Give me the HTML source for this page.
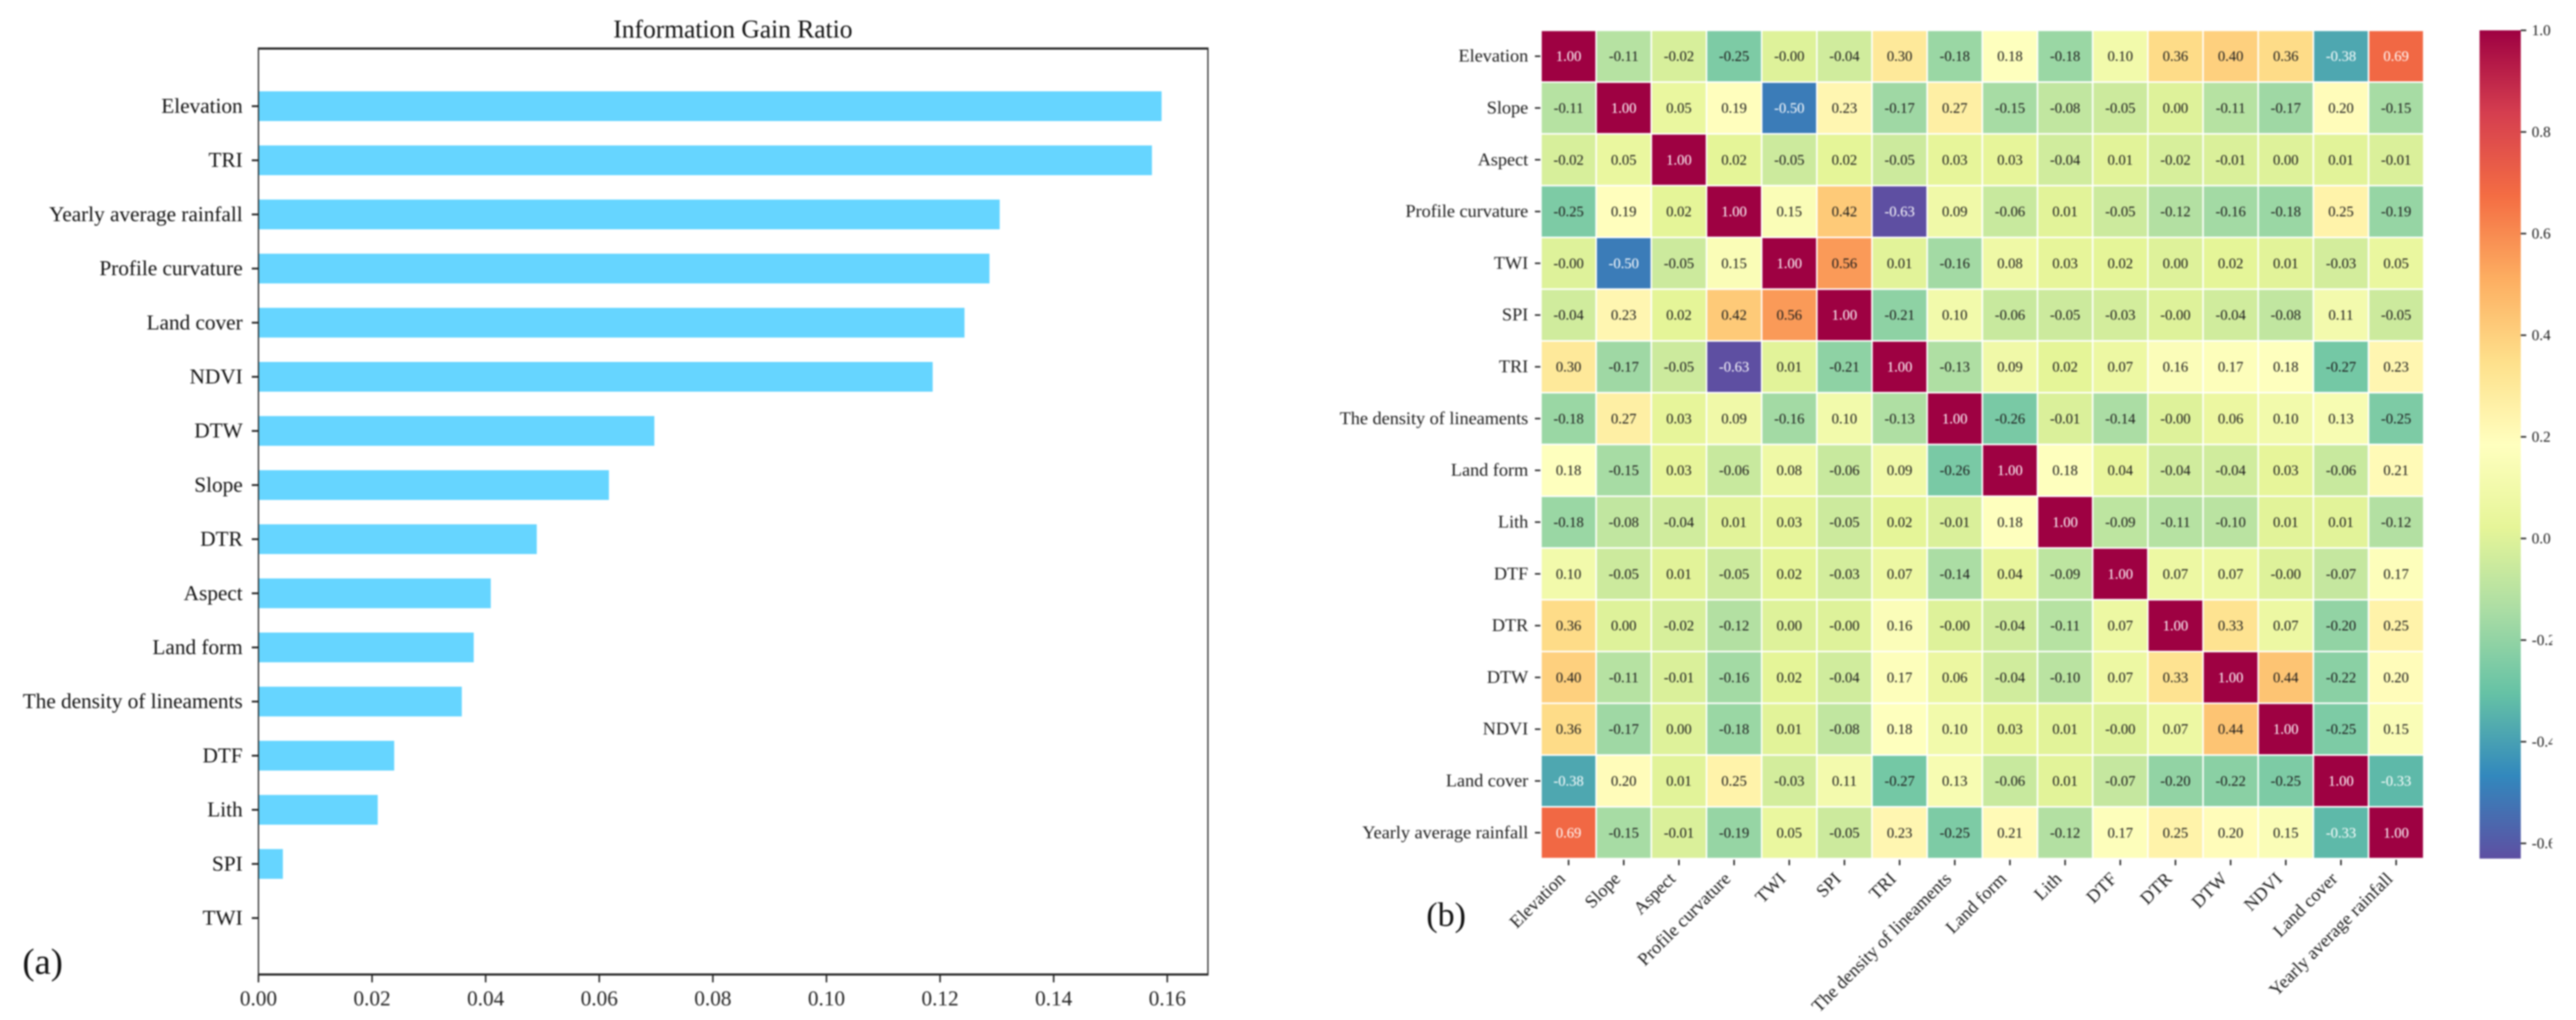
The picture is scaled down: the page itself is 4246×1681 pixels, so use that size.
<!DOCTYPE html>
<html lang="en">
<head>
<meta charset="utf-8">
<title>Information Gain Ratio and Correlation Heatmap</title>
<style>
html,body{margin:0;padding:0;background:#fff;width:4246px;height:1681px;overflow:hidden}
#figure{display:block;filter:blur(1.4px)}
text{font-family:"Liberation Serif","Times New Roman",serif}
</style>
</head>
<body>
<svg id="figure" xmlns="http://www.w3.org/2000/svg" width="4246" height="1681" viewBox="0 0 4246 1681">
  <defs>
    <linearGradient id="cbar-gradient" x1="0" y1="0" x2="0" y2="1"></linearGradient>
    <clipPath id="cbar-label-clip"><rect x="4160" y="0" width="47" height="1681"></rect></clipPath>
  </defs>
  <rect x="0" y="0" width="4246" height="1681" fill="#fff"></rect>
  <text x="1208" y="62" font-size="42" text-anchor="middle" fill="#111">Information Gain Ratio</text>
  <g id="bars"></g>
  <g id="bar-axes"></g>
  <text x="37" y="1605" font-size="60" fill="#111">(a)</text>
  <g id="heatmap"></g>
  <g id="heat-axes"></g>
  <g id="colorbar"></g>
  <text x="2351" y="1526" font-size="56" fill="#111">(b)</text>
</svg>
<script>
const barCategories = ["Elevation","TRI","Yearly average rainfall","Profile curvature","Land cover","NDVI","DTW","Slope","DTR","Aspect","Land form","The density of lineaments","DTF","Lith","SPI","TWI"];
const barValues = [0.159,0.1573,0.1305,0.1287,0.1243,0.1187,0.0697,0.0617,0.049,0.0409,0.0379,0.0358,0.0239,0.021,0.0043,0];
const barTickValues = [0,0.02,0.04,0.06,0.08,0.10,0.12,0.14,0.16];
const heatLabels = ["Elevation","Slope","Aspect","Profile curvature","TWI","SPI","TRI","The density of lineaments","Land form","Lith","DTF","DTR","DTW","NDVI","Land cover","Yearly average rainfall"];
const heatRow01 = [1,-0.11,-0.02,-0.25,-0.001,-0.04,0.30,-0.18,0.18,-0.18,0.10,0.36,0.40,0.36,-0.38,0.69];
const heatRow02 = [-0.11,1,0.05,0.19,-0.50,0.23,-0.17,0.27,-0.15,-0.08,-0.05,0.00,-0.11,-0.17,0.20,-0.15];
const heatRow03 = [-0.02,0.05,1,0.02,-0.05,0.02,-0.05,0.03,0.03,-0.04,0.01,-0.02,-0.01,0.00,0.01,-0.01];
const heatRow04 = [-0.25,0.19,0.02,1,0.15,0.42,-0.63,0.09,-0.06,0.01,-0.05,-0.12,-0.16,-0.18,0.25,-0.19];
const heatRow05 = [-0.001,-0.50,-0.05,0.15,1,0.56,0.01,-0.16,0.08,0.03,0.02,0.00,0.02,0.01,-0.03,0.05];
const heatRow06 = [-0.04,0.23,0.02,0.42,0.56,1,-0.21,0.10,-0.06,-0.05,-0.03,-0.001,-0.04,-0.08,0.11,-0.05];
const heatRow07 = [0.30,-0.17,-0.05,-0.63,0.01,-0.21,1,-0.13,0.09,0.02,0.07,0.16,0.17,0.18,-0.27,0.23];
const heatRow08 = [-0.18,0.27,0.03,0.09,-0.16,0.10,-0.13,1,-0.26,-0.01,-0.14,-0.001,0.06,0.10,0.13,-0.25];
const heatRow09 = [0.18,-0.15,0.03,-0.06,0.08,-0.06,0.09,-0.26,1,0.18,0.04,-0.04,-0.04,0.03,-0.06,0.21];
const heatRow10 = [-0.18,-0.08,-0.04,0.01,0.03,-0.05,0.02,-0.01,0.18,1,-0.09,-0.11,-0.10,0.01,0.01,-0.12];
const heatRow11 = [0.10,-0.05,0.01,-0.05,0.02,-0.03,0.07,-0.14,0.04,-0.09,1,0.07,0.07,-0.001,-0.07,0.17];
const heatRow12 = [0.36,0.00,-0.02,-0.12,0.00,-0.001,0.16,-0.001,-0.04,-0.11,0.07,1,0.33,0.07,-0.20,0.25];
const heatRow13 = [0.40,-0.11,-0.01,-0.16,0.02,-0.04,0.17,0.06,-0.04,-0.10,0.07,0.33,1,0.44,-0.22,0.20];
const heatRow14 = [0.36,-0.17,0.00,-0.18,0.01,-0.08,0.18,0.10,0.03,0.01,-0.001,0.07,0.44,1,-0.25,0.15];
const heatRow15 = [-0.38,0.20,0.01,0.25,-0.03,0.11,-0.27,0.13,-0.06,0.01,-0.07,-0.20,-0.22,-0.25,1,-0.33];
const heatRow16 = [0.69,-0.15,-0.01,-0.19,0.05,-0.05,0.23,-0.25,0.21,-0.12,0.17,0.25,0.20,0.15,-0.33,1];
const heatMatrix = [heatRow01,heatRow02,heatRow03,heatRow04,heatRow05,heatRow06,heatRow07,heatRow08,heatRow09,heatRow10,heatRow11,heatRow12,heatRow13,heatRow14,heatRow15,heatRow16];
const colorbarTickValues = [1.0,0.8,0.6,0.4,0.2,0.0,-0.2,-0.4,-0.6];
const colorDomainMin = -0.63;
const colorDomainMax = 1.0;
const spectralReversed = ["#5e4fa2","#3288bd","#66c2a5","#abdda4","#e6f598","#ffffbf","#fee08b","#fdae61","#f46d43","#d53e4f","#9e0142"];

const NS = "http://www.w3.org/2000/svg";
function svgEl(tag, attrs, parent, content) {
  const e = document.createElementNS(NS, tag);
  for (const k in attrs) e.setAttribute(k, attrs[k]);
  if (content !== undefined) e.textContent = content;
  parent.appendChild(e);
  return e;
}

/* ---------- bar chart ---------- */
const plotA = {left: 426, right: 1991, top: 80, bottom: 1606};
const barX = v => plotA.left + v * 9362.5;
const barY = i => 175 + i * 89.2;
const barThickness = 49;
const barsG = document.getElementById("bars");
const barAxes = document.getElementById("bar-axes");

barCategories.forEach((name, i) => {
  if (barValues[i] > 0) {
    const b = svgEl("rect", {x: barX(0), y: barY(i) - barThickness / 2, width: barX(barValues[i]) - barX(0), height: barThickness, fill: "#66d5ff"}, barsG);
    
    
  }
  const t = svgEl("line", {x1: 415, x2: plotA.left, y1: barY(i), y2: barY(i), stroke: "#222", "stroke-width": 3}, barAxes);
  
  
  const l = svgEl("text", {x: 400, y: barY(i) + 11, "font-size": 35, "text-anchor": "end", fill: "#111"}, barAxes, name);
  
  
});
barTickValues.forEach(v => {
  const t = svgEl("line", {x1: barX(v), x2: barX(v), y1: plotA.bottom, y2: 1619, stroke: "#222", "stroke-width": 2.5}, barAxes);
  
  
  const l = svgEl("text", {x: barX(v), y: 1657, "font-size": 35, "text-anchor": "middle", fill: "#222"}, barAxes, v.toFixed(2));
  
  
});
const spineTop = svgEl("line", {x1: plotA.left - 1, x2: plotA.right + 1, y1: plotA.top, y2: plotA.top, stroke: "#222", "stroke-width": 3.5}, barAxes);


const spineBottom = svgEl("line", {x1: plotA.left - 1, x2: plotA.right + 1, y1: plotA.bottom, y2: plotA.bottom, stroke: "#222", "stroke-width": 3.5}, barAxes);


const spineLeft = svgEl("line", {x1: plotA.left, x2: plotA.left, y1: plotA.top, y2: plotA.bottom, stroke: "#222", "stroke-width": 2}, barAxes);


const spineRight = svgEl("line", {x1: plotA.right, x2: plotA.right, y1: plotA.top, y2: plotA.bottom, stroke: "#222", "stroke-width": 2}, barAxes);



/* ---------- heatmap ---------- */
const plotB = {left: 2540, right: 3995, top: 50, bottom: 1415};
const cellW = (plotB.right - plotB.left) / heatLabels.length;
const cellH = (plotB.bottom - plotB.top) / heatLabels.length;
const heatX = i => plotB.left + i * cellW;
const heatY = i => plotB.top + i * cellH;

function hexToRgb(h) {
  return [parseInt(h.slice(1, 3), 16), parseInt(h.slice(3, 5), 16), parseInt(h.slice(5, 7), 16)];
}
function colorRgb(v) {
  const t = Math.max(0, Math.min(1, (v - colorDomainMin) / (colorDomainMax - colorDomainMin)));
  const p = t * (spectralReversed.length - 1);
  const i = Math.min(Math.floor(p), spectralReversed.length - 2);
  const a = hexToRgb(spectralReversed[i]);
  const b = hexToRgb(spectralReversed[i + 1]);
  const f = p - i;
  return a.map((c, k) => Math.round(c + (b[k] - c) * f));
}
function luminance(rgb) {
  const c = rgb.map(x => {
    const s = x / 255;
    return s <= 0.03928 ? s / 12.92 : Math.pow((s + 0.055) / 1.055, 2.4);
  });
  return 0.2126 * c[0] + 0.7152 * c[1] + 0.0722 * c[2];
}
const heatG = document.getElementById("heatmap");
const heatAxes = document.getElementById("heat-axes");

heatMatrix.forEach((row, r) => {
  row.forEach((v, c) => {
    const rgb = colorRgb(v);
    const cell = svgEl("rect", {x: heatX(c), y: heatY(r), width: cellW, height: cellH, fill: "rgb(" + rgb.join(",") + ")", stroke: "#fff", "stroke-width": 2.5}, heatG);
    
    
    const label = svgEl("text", {x: heatX(c) + cellW / 2, y: heatY(r) + cellH / 2 + 8, "font-size": 24, "text-anchor": "middle", fill: luminance(rgb) < 0.408 ? "#fff" : "#1c1c1c"}, heatG, v.toFixed(2));
    
    
  });
});
heatLabels.forEach((name, i) => {
  const cy = heatY(i) + cellH / 2;
  const cx = heatX(i) + cellW / 2;
  const yt = svgEl("line", {x1: 2530, x2: plotB.left - 1, y1: cy, y2: cy, stroke: "#222", "stroke-width": 2.5}, heatAxes);
  
  
  const yl = svgEl("text", {x: 2519, y: cy + 9, "font-size": 30, "text-anchor": "end", fill: "#1c1c1c"}, heatAxes, name);
  
  
  const xt = svgEl("line", {x1: cx, x2: cx, y1: plotB.bottom + 2, y2: plotB.bottom + 11, stroke: "#222", "stroke-width": 2.5}, heatAxes);
  
  
  const xl = svgEl("text", {transform: "translate(" + (cx - 4) + " 1450) rotate(-45)", x: 0, y: 0, "font-size": 30, "text-anchor": "end", fill: "#1c1c1c"}, heatAxes, name);
  
  
});

/* ---------- colorbar ---------- */
const cbar = {left: 4087, right: 4155, top: 50, bottom: 1415};
const cbarY = v => cbar.top + (colorDomainMax - v) / (colorDomainMax - colorDomainMin) * (cbar.bottom - cbar.top);
const grad = document.getElementById("cbar-gradient");
spectralReversed.forEach((col, i) => {
  svgEl("stop", {offset: 1 - i / (spectralReversed.length - 1), "stop-color": col}, grad);
});
Array.from(grad.children).reverse().forEach(s => grad.appendChild(s));
const cbarG = document.getElementById("colorbar");
const cbarRect = svgEl("rect", {x: cbar.left, y: cbar.top, width: cbar.right - cbar.left, height: cbar.bottom - cbar.top, fill: "url(#cbar-gradient)"}, cbarG);


colorbarTickValues.forEach(v => {
  const t = svgEl("line", {x1: cbar.right, x2: cbar.right + 9, y1: cbarY(v), y2: cbarY(v), stroke: "#222", "stroke-width": 2.5}, cbarG);
  
  
  const l = svgEl("text", {x: 4173, y: cbarY(v) + 8, "font-size": 25, fill: "#1c1c1c", "clip-path": "url(#cbar-label-clip)"}, cbarG, v.toFixed(1));
  
  
});
</script>
</body>
</html>
